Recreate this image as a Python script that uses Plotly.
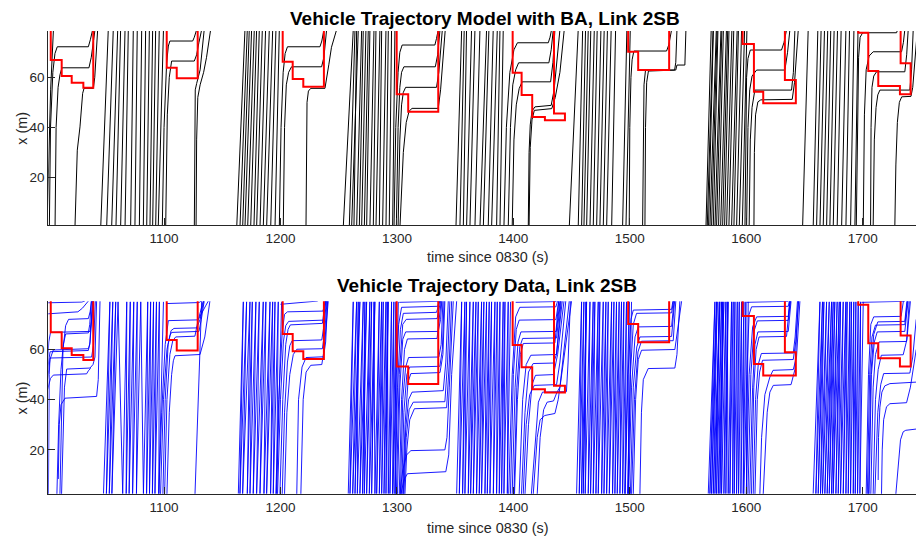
import plotly.graph_objects as go

# ---------------- axis ranges ----------------
T_RANGE = [1000.6, 1745.8]
MODEL_X_RANGE = [0.9, 78.5]
DATA_X_RANGE = [2.3, 79.2]
T_TICKS = [1100, 1200, 1300, 1400, 1500, 1600, 1700]
X_TICKS = [20, 40, 60]

# ---------------- queue boundaries (red), same in both panels: (time, position) ----------------
queue_A = [(1002.7, 80), (1002.7, 66.9), (1012.1, 66.9), (1012.1, 60.5), (1020.7, 60.5), (1020.7, 57.8),
           (1030.7, 57.8), (1030.7, 55.8), (1039.2, 55.8), (1039.2, 80)]
queue_B = [(1102.3, 80), (1102.3, 63.8), (1110.9, 63.8), (1110.9, 59.6), (1128.9, 59.6), (1128.9, 80)]
queue_C = [(1201.9, 80), (1201.9, 66.2), (1210.5, 66.2), (1210.5, 59.3), (1219.6, 59.3), (1219.6, 56.2),
           (1237.3, 56.2), (1237.3, 80)]
queue_D = [(1299.8, 80), (1299.8, 53.2), (1309.7, 53.2), (1309.7, 46.2), (1335.5, 46.2), (1335.5, 80)]
queue_E = [(1399.4, 80), (1399.4, 61.8), (1407.1, 61.8), (1407.1, 52.9), (1416.2, 52.9), (1416.2, 44.2),
           (1427.1, 44.2), (1427.1, 42.9), (1444.3, 42.9), (1444.3, 45.6), (1434.9, 45.6), (1434.9, 80)]
queue_F = [(1498.6, 80), (1498.6, 70.2), (1507.2, 70.2), (1507.2, 62.9), (1533.8, 62.9), (1533.8, 80)]
queue_G = [(1596.9, 80), (1596.9, 73.3), (1606.6, 73.3), (1606.6, 54.2), (1614.6, 54.2), (1614.6, 49.6),
           (1642.6, 49.6), (1642.6, 58.9), (1633.2, 58.9), (1633.2, 80)]
queue_H = [(1696.2, 80), (1696.2, 77.8), (1704.8, 77.8), (1704.8, 62.5), (1713.4, 62.5), (1713.4, 56.5),
           (1732.0, 56.5), (1732.0, 53.2), (1741.2, 53.2), (1741.2, 65.6), (1732.6, 65.6), (1732.6, 80)]

# ---------------- model (top): free-flow vehicles, time at link entry / exit ----------------
model_in_1 = [1045.6, 1050.7, 1055.0, 1058.7, 1062.7, 1066.5, 1071.3, 1075.0, 1078.8, 1082.2, 1085.1, 1087.9, 1090.2, 1092.8, 1095.0]
model_out_1 = [1052.1, 1056.4, 1060.2, 1062.7, 1066.5, 1069.3, 1073.6, 1077.0, 1080.8, 1084.2, 1087.4, 1090.2, 1092.8, 1095.9, 1099.5]
model_in_2 = [1162.4, 1165.2, 1167.5, 1169.5, 1171.8, 1174.4, 1177.2, 1179.5, 1182.4, 1185.2, 1188.1, 1191.6, 1195.3]
model_out_2 = [1169.5, 1171.5, 1173.2, 1175.2, 1177.5, 1179.5, 1181.8, 1184.4, 1187.2, 1190.4, 1193.3, 1196.1, 1199.0]
model_in_3 = [1253.9, 1259.1, 1261.1, 1263.1, 1265.4, 1267.7, 1269.7, 1272.0, 1274.0, 1276.8, 1279.7, 1282.0, 1284.9, 1287.7, 1290.6, 1293.4, 1296.3]
model_out_3 = [1262.5, 1264.0, 1266.8, 1265.4, 1269.7, 1271.1, 1273.4, 1275.4, 1276.8, 1280.3, 1282.0, 1285.4, 1286.9, 1290.6, 1292.6, 1295.4, 1298.3]
model_in_4 = [1350.7, 1354.1, 1357.0, 1359.8, 1362.7, 1367.0, 1371.3, 1374.2, 1378.4, 1381.3, 1385.6, 1388.5]
model_out_4 = [1355.6, 1357.8, 1359.8, 1364.1, 1367.0, 1371.3, 1377.0, 1379.0, 1382.7, 1386.2, 1388.5, 1391.3]
model_in_5 = [1448.0, 1455.7, 1458.6, 1460.6, 1462.9, 1465.8, 1468.6, 1471.5, 1474.3, 1477.2, 1480.1, 1484.4, 1493.8, 1496.7]
model_out_5 = [1455.7, 1459.5, 1462.0, 1464.3, 1466.5, 1469.5, 1472.0, 1475.2, 1478.0, 1480.8, 1484.0, 1487.8, 1497.5, 1500.4]
model_in_6 = [1565.4, 1566.5, 1567.6, 1568.8, 1570.2, 1571.7, 1573.1, 1574.5, 1576.2, 1578.0, 1579.7, 1581.4, 1583.1, 1585.1, 1587.4, 1589.4, 1591.7, 1594.0, 1596.6]
model_out_6 = [1569.9, 1571.5, 1571.8, 1574.3, 1575.0, 1575.7, 1578.3, 1579.1, 1580.4, 1583.0, 1584.1, 1585.2, 1587.7, 1589.3, 1592.2, 1593.3, 1596.0, 1598.6, 1600.6]
model_in_7 = [1648.4, 1657.5, 1660.4, 1663.3, 1666.1, 1669.0, 1671.8, 1674.7, 1678.1, 1681.9, 1685.6, 1689.6, 1693.3]
model_out_7 = [1653.2, 1661.5, 1664.3, 1667.2, 1670.0, 1672.6, 1675.5, 1678.4, 1681.5, 1685.6, 1688.7, 1692.5, 1696.0]
MODEL_X_ENTRY, MODEL_X_EXIT = 0.0, 79.0

# ---------------- model (top): queued vehicles, (time, position) ----------------
model_queue_A = [
    [(999.5, 0), (1000.6, 22), (1002.6, 55), (1005.0, 79)],
    [(1001.5, 0), (1002.5, 40), (1004.5, 62), (1006.3, 69.5), (1008.3, 72.2), (1035.0, 72.2), (1036.7, 75), (1038.7, 79)],
    [(1006.4, 0), (1007.3, 40), (1009.0, 56), (1010.6, 61), (1012.3, 63.8), (1035.5, 63.8), (1037.5, 68), (1040.7, 79)],
    [(1023.5, 0), (1025.5, 30.9), (1027.8, 40.2), (1030.1, 53.6), (1031.3, 55.6), (1039.3, 55.6), (1040.5, 60), (1041.5, 66), (1043.0, 79)],
]
model_queue_B = [
    [(1098.5, 0), (1100.0, 40), (1102.2, 65.6), (1103.7, 72.5), (1105.0, 74.5), (1124.6, 74.5), (1126.0, 76), (1128.0, 79)],
    [(1101.4, 0), (1102.8, 45), (1104.5, 60), (1106.5, 66.5), (1126.0, 66.5), (1128.0, 69), (1130.0, 74), (1132.3, 79)],
    [(1126.0, 0), (1126.3, 40), (1126.8, 55), (1128.0, 57.5), (1129.4, 59.6), (1131.0, 63), (1134.5, 79)],
    [(1127.5, 0), (1128.0, 35), (1129.0, 52), (1131.0, 57), (1134.0, 62), (1136.5, 68), (1140.0, 79)],
]
model_queue_C = [
    [(1199.0, 0), (1200.5, 40), (1202.3, 62), (1204.0, 69.5), (1206.0, 72.2), (1233.9, 72.2), (1235.5, 74.5), (1237.3, 79)],
    [(1202.4, 0), (1203.5, 40), (1205.0, 57), (1207.0, 62), (1209.5, 64.2), (1235.3, 64.2), (1237.3, 68), (1239.6, 79)],
    [(1221.9, 0), (1222.3, 35), (1222.8, 50), (1224.0, 54.5), (1226.0, 55.6), (1238.2, 55.6), (1240.0, 60), (1241.5, 65), (1243.8, 72), (1248.2, 79)],
]
model_queue_D = [
    [(1297.5, 0), (1299.0, 40), (1301.0, 62), (1302.5, 70), (1304.5, 72.9), (1332.6, 72.9), (1334.0, 75.5), (1335.5, 79)],
    [(1299.5, 0), (1301.0, 40), (1302.5, 56), (1304.0, 62), (1306.0, 64.2), (1333.0, 64.2), (1335.0, 69), (1337.0, 79)],
    [(1301.0, 0), (1302.5, 35), (1304.0, 49), (1305.5, 54), (1307.5, 56.0), (1334.0, 56.0), (1336.0, 62), (1339.0, 79)],
    [(1302.6, 0), (1305.5, 30), (1308.0, 42), (1310.5, 46.5), (1313.0, 47.6), (1335.5, 47.6), (1337.5, 55), (1339.5, 66), (1341.5, 79)],
]
model_queue_E = [
    [(1391.9, 0), (1394.0, 40), (1397.0, 62), (1400.5, 71), (1403.5, 73.8), (1430.0, 73.8), (1431.5, 76), (1432.8, 79)],
    [(1395.6, 0), (1397.5, 40), (1399.5, 57), (1402.0, 63), (1404.5, 65.8), (1430.5, 65.8), (1432.5, 71), (1434.3, 79)],
    [(1399.0, 0), (1400.5, 35), (1402.5, 49), (1405.0, 55.5), (1407.5, 58.2), (1432.0, 58.2), (1434.0, 66), (1435.7, 79)],
    [(1412.8, 0), (1413.5, 30), (1414.5, 41), (1416.0, 46.5), (1418.5, 48.2), (1432.5, 48.8), (1435.0, 55), (1437.5, 66), (1440.0, 79)],
    [(1413.5, 0), (1414.5, 32), (1416.0, 43), (1418.0, 46.8), (1433.0, 47.5), (1436.0, 52), (1440.0, 62), (1443.7, 79)],
]
model_queue_F = [
    [(1499.5, 0), (1500.0, 40), (1501.0, 60), (1502.0, 67), (1503.5, 70.5), (1531.6, 70.5), (1533.5, 73), (1535.9, 79)],
    [(1511.0, 0), (1511.5, 40), (1512.2, 57), (1513.5, 62.9), (1538.5, 62.9), (1539.5, 66), (1540.5, 79)],
    [(1513.0, 0), (1513.5, 40), (1514.5, 58), (1516.0, 62.5), (1539.5, 62.9), (1540.5, 64.9), (1547.3, 64.9), (1548.2, 79)],
]
model_queue_G = [
    [(1598.9, 0), (1599.5, 40), (1600.3, 60), (1601.5, 67.5), (1603.5, 70.9), (1630.3, 70.9), (1632.5, 74), (1634.6, 79)],
    [(1600.3, 0), (1601.5, 40), (1603.0, 55), (1605.0, 60.5), (1608.9, 62.9), (1633.2, 62.9), (1635.5, 70), (1637.5, 79)],
    [(1602.5, 0), (1603.5, 35), (1605.0, 48), (1607.4, 54.9), (1638.9, 54.9), (1640.5, 62), (1641.8, 79)],
    [(1606.6, 0), (1607.0, 30), (1608.0, 45), (1610.0, 50.2), (1612.5, 51.0), (1639.5, 51.2), (1641.5, 58), (1643.0, 68), (1644.7, 79)],
]
model_queue_H = [
    [(1694.5, 0), (1695.5, 45), (1696.5, 68), (1697.8, 76), (1700.0, 77.8), (1729.1, 77.8), (1730.0, 79)],
    [(1700.5, 0), (1701.5, 45), (1703.0, 63), (1705.5, 68.5), (1709.0, 70.2), (1733.4, 70.2), (1735.0, 74), (1736.2, 79)],
    [(1706.8, 0), (1707.2, 40), (1708.0, 56), (1709.5, 60.5), (1711.9, 62.2), (1736.2, 62.2), (1737.8, 69), (1739.1, 79)],
    [(1709.0, 0), (1710.0, 35), (1711.5, 48), (1713.0, 53), (1714.8, 54.9), (1740.5, 54.9), (1742.0, 63), (1743.4, 79)],
    [(1727.6, 0), (1728.5, 25), (1729.8, 42), (1731.5, 50), (1733.5, 52.2), (1741.5, 52.4), (1743.0, 56), (1745.0, 66), (1747.0, 79)],
]

# ---------------- data (bottom): recorded free-flow traces, alternating low/high turning times ----------------
data_zigzag_1 = [1048.0, 1053.5, 1050.5, 1056.0, 1053.0, 1058.5, 1055.2, 1060.5, 1064.5, 1068.0, 1067.5, 1071.0, 1070.0,
                 1074.0, 1073.0, 1077.0, 1076.3, 1080.0, 1082.3, 1086.0, 1085.0, 1088.5, 1087.5, 1091.0, 1090.0, 1093.5,
                 1092.2, 1096.0, 1095.5, 1099.5]
data_zigzag_2 = [1163.8, 1168.1, 1165.2, 1170.9, 1167.5, 1173.8, 1171.5, 1175.8, 1173.8, 1178.9, 1176.6, 1181.8, 1179.5,
                 1185.2, 1182.4, 1187.5, 1185.8, 1191.0, 1188.1, 1193.3, 1191.5, 1195.3, 1193.8, 1198.1, 1196.7, 1201.0]
data_zigzag_3 = [1258.2, 1262.5, 1259.7, 1265.4, 1262.0, 1268.2, 1264.0, 1266.8, 1266.0, 1271.1, 1268.2, 1274.0, 1270.5,
                 1272.5, 1272.0, 1276.8, 1274.0, 1278.3, 1276.3, 1281.1, 1278.3, 1280.3, 1281.1, 1284.9, 1282.6, 1286.9,
                 1284.9, 1288.3, 1286.9, 1290.6, 1288.9, 1292.6, 1290.6, 1291.7, 1292.6, 1295.4, 1294.0, 1297.4, 1296.3,
                 1299.2, 1298.3, 1301.2]
data_zigzag_4 = [1351.3, 1355.6, 1353.6, 1358.4, 1356.4, 1359.8, 1358.4, 1362.7, 1361.3, 1365.6, 1363.3, 1367.9, 1365.6,
                 1369.9, 1368.4, 1372.7, 1370.7, 1374.7, 1372.7, 1377.0, 1375.6, 1379.3, 1377.6, 1381.3, 1379.9, 1384.2,
                 1382.8, 1386.2, 1385.6, 1388.5, 1387.9, 1391.3, 1389.9, 1392.8, 1391.9, 1395.6, 1394.8, 1397.6]
data_zigzag_5 = [1454.3, 1458.6, 1456.6, 1460.6, 1458.6, 1462.9, 1460.0, 1462.3, 1461.7, 1465.8, 1464.3, 1468.6, 1466.3,
                 1470.0, 1468.6, 1472.9, 1470.9, 1474.3, 1472.9, 1477.2, 1475.8, 1479.5, 1477.8, 1481.5, 1480.1, 1484.4,
                 1482.4, 1486.4, 1485.2, 1488.6, 1487.2, 1490.9, 1489.2, 1492.9, 1491.5, 1494.9, 1493.8, 1497.2, 1495.8,
                 1499.5, 1498.7, 1501.5]
data_zigzag_6 = [1567.4, 1573.1, 1568.8, 1574.5, 1570.2, 1575.1, 1571.7, 1577.4, 1573.1, 1576.8, 1574.5, 1578.8, 1576.0,
                 1580.8, 1577.4, 1579.7, 1578.8, 1582.5, 1580.8, 1584.5, 1582.5, 1583.7, 1584.5, 1587.4, 1586.0, 1588.8,
                 1588.3, 1590.3, 1589.7, 1592.3, 1591.7, 1594.0, 1593.4, 1596.0, 1595.4, 1598.0, 1597.4, 1599.7, 1600.3,
                 1601.7]
data_zigzag_7 = [1657.5, 1663.3, 1659.8, 1665.5, 1661.8, 1666.7, 1663.8, 1669.0, 1665.5, 1671.3, 1667.5, 1673.3, 1669.5,
                 1674.7, 1671.3, 1676.1, 1673.3, 1678.1, 1674.7, 1679.9, 1677.0, 1681.0, 1679.0, 1683.3, 1681.0, 1685.6,
                 1683.3, 1686.7, 1685.6, 1689.0, 1687.6, 1690.4, 1689.6, 1692.4, 1691.9, 1694.2, 1693.6, 1696.2, 1695.6,
                 1698.2, 1697.6, 1700.5]
DATA_X_LOW, DATA_X_HIGH = 2.6, 79.0

# ---------------- data (bottom): queued vehicle traces, (time, position) ----------------
data_queue_A = [
    [(1000.0, 78.6), (1029.3, 78.9), (1032.0, 79.3)],
    [(1000.0, 74.2), (1026.0, 75.0), (1030.0, 76.5), (1035.0, 79.3)],
    [(1010.6, 2.5), (1011.8, 35), (1013.2, 60), (1015.5, 69.5), (1018.0, 72.0), (1035.0, 72.3), (1036.5, 75), (1037.8, 79.3)],
    [(1000.0, 55), (1001.0, 63), (1002.5, 66.8), (1036.4, 67.2), (1038.0, 72), (1039.3, 79.3)],
    [(1008.0, 2.5), (1009.5, 30), (1011.5, 52), (1013.5, 62), (1015.5, 66.2), (1035.0, 66.6), (1036.2, 70), (1037.5, 79.3)],
    [(1000.0, 48), (1002.0, 56), (1004.9, 59.8), (1035.0, 60.3), (1036.2, 62), (1038.5, 79.3)],
    [(1000.0, 52), (1002.1, 59.1), (1035.0, 59.6), (1036.5, 63), (1038.8, 79.3)],
    [(1000.7, 2.5), (1001.0, 30), (1001.4, 50), (1002.1, 56.6), (1037.8, 57.0), (1039.5, 62), (1041.0, 79.3)],
    [(1012.0, 2.5), (1013.0, 25), (1014.5, 45), (1016.4, 52.2), (1036.4, 52.6), (1039.0, 54), (1040.7, 57), (1042.1, 79.3)],
    [(1000.0, 44), (1002.5, 48.5), (1004.9, 49.8), (1033.5, 50.3), (1035.0, 51.5), (1037.0, 52.5)],
    [(1009.2, 8.4), (1010.0, 30), (1011.5, 38), (1015.0, 40.6), (1042.1, 41.3), (1043.5, 48), (1045.0, 79.3)],
]
data_queue_B = [
    [(1102.2, 78.3), (1130.0, 78.7), (1132.0, 79.3)],
    [(1095.5, 2.5), (1098.0, 35), (1101.0, 62), (1103.7, 71.5), (1129.4, 71.8), (1131.5, 75), (1133.7, 79.3)],
    [(1099.0, 2.5), (1101.0, 40), (1103.5, 62), (1106.0, 67.5), (1108.5, 68.4), (1128.0, 68.6), (1131.0, 72), (1134.0, 79.3)],
    [(1097.0, 2.5), (1099.5, 40), (1102.5, 60), (1105.0, 65.5), (1106.5, 66.8), (1130.0, 67.2), (1132.0, 72), (1134.5, 79.3)],
    [(1100.5, 2.5), (1102.5, 40), (1105.0, 58), (1107.5, 63.5), (1110.0, 65.0), (1126.5, 65.3), (1129.4, 72), (1138.0, 79.3)],
    [(1102.5, 2.5), (1104.5, 35), (1106.5, 50), (1108.0, 55.5), (1109.4, 57.5), (1130.9, 58.0), (1135.0, 65), (1137.0, 71), (1139.4, 79.3)],
    [(1126.6, 2.5), (1132.3, 79.3)],
]
data_queue_C = [
    [(1200.0, 78.0), (1215.0, 78.6), (1232.0, 79.3)],
    [(1196.0, 2.5), (1198.5, 40), (1201.5, 67), (1203.5, 74.0), (1206.0, 75.0), (1236.5, 75.3), (1238.5, 79.3)],
    [(1197.5, 2.5), (1200.0, 40), (1202.5, 63), (1204.5, 69.5), (1207.0, 71.2), (1237.0, 71.7), (1239.0, 79.3)],
    [(1199.5, 2.5), (1202.0, 40), (1204.5, 62), (1206.5, 68), (1208.5, 69.8), (1236.0, 70.4), (1238.5, 79.3)],
    [(1201.5, 2.5), (1203.5, 35), (1206.0, 55), (1208.0, 61.5), (1210.0, 63.5), (1235.5, 63.8), (1237.5, 70), (1239.5, 79.3)],
    [(1203.5, 2.5), (1205.5, 35), (1208.0, 50), (1211.0, 58), (1214.0, 60.1), (1236.0, 60.3), (1238.0, 67), (1240.0, 79.3)],
    [(1214.0, 2.5), (1215.5, 40), (1218.5, 53), (1222.0, 56.8), (1237.0, 57.1), (1238.8, 63), (1240.5, 79.3)],
    [(1217.5, 2.5), (1219.5, 40), (1222.0, 51), (1226.0, 53.7), (1235.5, 54.0), (1237.5, 60), (1241.0, 79.3)],
]
data_queue_D = [
    [(1302.0, 78.8), (1336.5, 79.2)],
    [(1296.5, 2.5), (1299.0, 45), (1301.5, 70), (1304.0, 76.8), (1335.0, 77.2), (1336.5, 79.3)],
    [(1298.5, 2.5), (1300.5, 45), (1303.0, 68), (1305.5, 74.4), (1334.0, 74.8), (1336.9, 79.3)],
    [(1299.5, 2.5), (1302.0, 50), (1305.0, 70), (1308.0, 72.0), (1334.5, 72.3), (1337.5, 79.3)],
    [(1300.5, 2.5), (1302.5, 45), (1305.0, 64), (1307.5, 67.0), (1335.5, 67.2), (1337.5, 72), (1338.5, 79.3)],
    [(1302.0, 2.5), (1304.0, 40), (1306.5, 60), (1309.0, 64.2), (1334.5, 64.4), (1338.0, 79.3)],
    [(1303.0, 2.5), (1305.0, 40), (1307.5, 53), (1310.0, 56.8), (1336.0, 57.0), (1338.0, 62), (1339.5, 79.3)],
    [(1304.0, 2.5), (1306.0, 35), (1308.5, 50), (1311.0, 53.0), (1336.9, 53.3), (1339.0, 60), (1340.5, 79.3)],
    [(1305.0, 2.5), (1307.0, 30), (1309.5, 47), (1312.0, 50.4), (1337.0, 50.8), (1339.5, 58), (1341.2, 79.3)],
    [(1305.5, 2.5), (1307.5, 28), (1310.0, 40), (1313.0, 43.0), (1339.8, 43.6), (1342.0, 55), (1344.1, 79.3)],
    [(1306.0, 2.5), (1308.0, 25), (1310.5, 36), (1314.0, 39.0), (1341.2, 39.2), (1343.5, 55), (1345.5, 79.3)],
    [(1306.9, 2.5), (1308.5, 20), (1311.0, 32), (1315.0, 36.4), (1342.7, 36.8), (1345.0, 55), (1347.0, 79.3)],
    [(1302.6, 2.5), (1305.0, 12), (1308.3, 18), (1312.0, 19.7), (1341.2, 20.0), (1343.0, 25), (1345.0, 45), (1348.4, 79.3)],
    [(1303.5, 2.5), (1306.0, 8), (1309.0, 10.5), (1342.0, 11.3), (1344.5, 18), (1347.0, 50), (1351.3, 79.3)],
]
data_queue_E = [
    [(1402.0, 78.8), (1437.0, 79.1)],
    [(1396.0, 2.5), (1399.0, 50), (1402.0, 73), (1405.5, 76.8), (1436.5, 77.0), (1438.0, 79.3)],
    [(1397.5, 2.5), (1400.0, 50), (1402.5, 68), (1405.0, 71.7), (1436.5, 71.9), (1439.0, 79.3)],
    [(1399.0, 2.5), (1401.5, 45), (1404.0, 63), (1406.5, 67.0), (1436.9, 67.2), (1440.0, 79.3)],
    [(1400.5, 2.5), (1403.0, 45), (1405.5, 61), (1408.0, 64.4), (1437.1, 64.6), (1440.5, 79.3)],
    [(1401.0, 2.5), (1403.5, 40), (1406.0, 58), (1408.5, 62.4), (1435.7, 62.6), (1439.0, 79.3)],
    [(1405.0, 2.5), (1408.0, 40), (1411.0, 54), (1415.0, 57.7), (1437.1, 58.0), (1441.0, 79.3)],
    [(1407.0, 2.5), (1410.0, 35), (1413.0, 51), (1417.0, 54.4), (1434.5, 54.6), (1437.0, 58), (1442.0, 79.3)],
    [(1410.0, 2.5), (1413.0, 30), (1416.0, 46), (1419.0, 49.7), (1434.5, 50.0), (1438.0, 58), (1443.5, 79.3)],
    [(1408.5, 2.5), (1411.0, 30), (1414.0, 42), (1418.0, 45.7), (1437.1, 46.0), (1440.0, 55), (1445.0, 79.3)],
    [(1415.5, 2.5), (1419.0, 25), (1421.5, 39), (1425.0, 43.0), (1445.6, 43.2), (1447.0, 55), (1449.0, 79.3)],
    [(1417.1, 2.5), (1420.5, 25), (1423.0, 32), (1427.0, 33.7), (1435.7, 34.5), (1438.5, 40), (1443.0, 55), (1450.0, 79.3)],
    [(1420.5, 2.5), (1423.0, 25), (1426.0, 36), (1429.0, 39.0), (1434.5, 39.5), (1437.5, 43), (1440.0, 45), (1448.0, 79.3)],
]
data_queue_F = [
    [(1496.0, 2.5), (1498.5, 50), (1501.0, 72), (1503.0, 75.7), (1535.9, 76.0), (1537.0, 79.3)],
    [(1498.0, 2.5), (1500.5, 50), (1503.0, 70), (1505.8, 74.4), (1535.9, 74.6), (1537.5, 79.3)],
    [(1499.0, 2.5), (1501.5, 45), (1504.5, 65), (1507.3, 69.0), (1535.9, 69.2), (1538.0, 79.3)],
    [(1500.5, 2.5), (1503.0, 45), (1506.0, 61), (1508.7, 65.0), (1535.9, 65.2), (1538.5, 79.3)],
    [(1501.5, 2.5), (1504.0, 40), (1507.0, 59), (1510.0, 63.3), (1537.3, 63.5), (1539.5, 79.3)],
    [(1503.0, 2.5), (1505.0, 40), (1507.3, 56), (1510.1, 59.7), (1538.7, 60.0), (1540.5, 66), (1544.5, 79.3)],
    [(1508.7, 2.5), (1510.0, 35), (1511.6, 48), (1515.8, 52.4), (1538.7, 52.6), (1540.5, 58), (1543.0, 79.3)],
]
data_queue_G = [
    [(1600.3, 78.8), (1636.1, 79.2)],
    [(1598.0, 2.5), (1600.5, 50), (1602.5, 74), (1604.6, 77.0), (1636.1, 77.2), (1637.0, 79.3)],
    [(1600.0, 2.5), (1602.5, 50), (1605.5, 69), (1608.9, 73.0), (1636.1, 73.2), (1637.5, 79.3)],
    [(1601.5, 2.5), (1604.0, 50), (1606.5, 67), (1609.5, 71.4), (1636.1, 71.6), (1638.0, 79.3)],
    [(1603.0, 2.5), (1605.5, 45), (1607.5, 62), (1610.0, 67.0), (1636.1, 67.2), (1638.5, 79.3)],
    [(1604.5, 2.5), (1606.5, 45), (1608.5, 60), (1611.0, 65.0), (1634.6, 65.2), (1637.5, 79.3)],
    [(1606.0, 2.5), (1608.0, 40), (1610.3, 54), (1613.0, 58.4), (1640.4, 58.6), (1642.0, 65), (1644.0, 79.3)],
    [(1607.5, 2.5), (1609.5, 40), (1611.5, 51), (1614.0, 55.7), (1640.4, 56.0), (1642.5, 63), (1645.0, 79.3)],
    [(1611.7, 2.5), (1613.2, 25), (1616.0, 42), (1620.3, 49), (1623.0, 51.7), (1640.4, 52.0), (1643.2, 57), (1646.1, 79.3)],
    [(1614.6, 2.5), (1616.5, 20), (1618.0, 35), (1620.3, 43), (1623.2, 45.7), (1638.5, 46.0), (1641.8, 52), (1644.7, 79.3)],
]
data_queue_H = [
    [(1699.0, 78.8), (1736.2, 79.2)],
    [(1703.0, 2.5), (1705.0, 50), (1707.0, 70), (1709.5, 73.0), (1733.0, 73.2), (1735.0, 79.3)],
    [(1705.0, 2.5), (1707.0, 50), (1709.5, 66), (1713.0, 71.0), (1736.2, 71.2), (1738.0, 79.3)],
    [(1704.0, 2.5), (1706.0, 50), (1708.0, 65), (1711.0, 69.7), (1736.2, 69.9), (1738.5, 79.3)],
    [(1705.5, 2.5), (1707.5, 50), (1710.0, 63), (1712.5, 67.0), (1736.2, 67.2), (1739.0, 79.3)],
    [(1707.0, 2.5), (1709.0, 45), (1711.0, 58), (1714.0, 63.0), (1737.7, 63.2), (1740.0, 79.3)],
    [(1709.0, 2.5), (1711.0, 40), (1713.3, 52), (1716.0, 57.7), (1734.8, 57.9), (1738.0, 64), (1741.0, 79.3)],
    [(1710.5, 2.5), (1713.0, 35), (1715.5, 46), (1718.0, 50.4), (1740.5, 50.6), (1743.0, 57), (1746.0, 72)],
    [(1713.3, 8.0), (1713.6, 25), (1714.8, 37), (1716.5, 43), (1719.0, 45.5), (1723.4, 46.4), (1746.0, 47)],
    [(1716.2, 2.5), (1716.8, 20), (1718.0, 32), (1720.5, 37.2), (1723.4, 38.4), (1737.7, 38.8), (1741.0, 45), (1746.0, 60)],
    [(1728.5, 2.5), (1731.0, 15), (1732.5, 24), (1734.8, 27.2), (1737.0, 27.8), (1746.0, 28.3)],
]

# ---------------- build ----------------
FONT = "Liberation Sans, Arial, Helvetica, sans-serif"
AX_COLOR = "#262626"


def paths_to_xy(paths):
    xs, ys = [], []
    for p in paths:
        for t, x in p:
            xs.append(t)
            ys.append(x)
        xs.append(None)
        ys.append(None)
    return xs, ys


def line_trace(paths, color, width, xa, ya):
    xs, ys = paths_to_xy(paths)
    return go.Scatter(x=xs, y=ys, mode="lines", line=dict(color=color, width=width),
                      hoverinfo="skip", showlegend=False, xaxis=xa, yaxis=ya)


model_free = []
for tin, tout in zip(model_in_1 + model_in_2 + model_in_3 + model_in_4 + model_in_5 + model_in_6 + model_in_7,
                     model_out_1 + model_out_2 + model_out_3 + model_out_4 + model_out_5 + model_out_6 + model_out_7):
    model_free.append([(tin, MODEL_X_ENTRY), (tout, MODEL_X_EXIT)])
model_queued = (model_queue_A + model_queue_B + model_queue_C + model_queue_D + model_queue_E +
                model_queue_F + model_queue_G + model_queue_H)

data_free = []
for zz in [data_zigzag_1, data_zigzag_2, data_zigzag_3, data_zigzag_4, data_zigzag_5, data_zigzag_6, data_zigzag_7]:
    data_free.append([(t, DATA_X_LOW if i % 2 == 0 else DATA_X_HIGH) for i, t in enumerate(zz)])
data_queued = (data_queue_A + data_queue_B + data_queue_C + data_queue_D + data_queue_E +
               data_queue_F + data_queue_G + data_queue_H)

queues = [queue_A, queue_B, queue_C, queue_D, queue_E, queue_F, queue_G, queue_H]

fig = go.Figure()
fig.add_trace(line_trace(model_free + model_queued, "#000000", 1.0, "x", "y"))
fig.add_trace(line_trace(queues, "#ff0000", 2.0, "x", "y"))
fig.add_trace(line_trace(data_free + data_queued, "#0000ff", 0.9, "x2", "y2"))
fig.add_trace(line_trace(queues, "#ff0000", 2.0, "x2", "y2"))

W, H = 916, 538
XDOM = [48.3 / W, 1.0]
axis_common = dict(showline=True, linecolor=AX_COLOR, linewidth=1, ticks="inside", ticklen=7,
                   tickcolor=AX_COLOR, tickwidth=1, showgrid=False, zeroline=False, mirror=False,
                   tickfont=dict(family=FONT, size=13.5, color=AX_COLOR))

fig.update_layout(
    width=W, height=H, margin=dict(l=0, r=0, t=0, b=0),
    paper_bgcolor="white", plot_bgcolor="white", showlegend=False,
    xaxis=dict(domain=XDOM, range=T_RANGE, tickvals=T_TICKS, anchor="y", **axis_common),
    yaxis=dict(domain=[1 - 225.3 / H, 1 - 31 / H], range=MODEL_X_RANGE, tickvals=X_TICKS, anchor="x", **axis_common),
    xaxis2=dict(domain=XDOM, range=T_RANGE, tickvals=T_TICKS, anchor="y2", **axis_common),
    yaxis2=dict(domain=[1 - 494.3 / H, 1 - 301.3 / H], range=DATA_X_RANGE, tickvals=X_TICKS, anchor="x2", **axis_common),
)

ann = []
ann.append(dict(text="Vehicle Trajectory Model with BA, Link 2SB", x=484.7 / W, y=1 - 18 / H,
                font=dict(family=FONT, size=19, color="#000000", weight="bold")))
ann.append(dict(text="Vehicle Trajectory Data, Link 2SB", x=487 / W, y=1 - 285 / H,
                font=dict(family=FONT, size=19, color="#000000", weight="bold")))
for yy in [257, 528]:
    ann.append(dict(text="time since 0830 (s)", x=487.5 / W, y=1 - yy / H,
                    font=dict(family=FONT, size=14.4, color=AX_COLOR)))
for yy in [128, 397.7]:
    ann.append(dict(text="x (m)", x=21.7 / W, y=1 - yy / H, textangle=-90,
                    font=dict(family=FONT, size=14.4, color=AX_COLOR)))
for a in ann:
    a.update(xref="paper", yref="paper", xanchor="center", yanchor="middle", showarrow=False)
fig.update_layout(annotations=ann)

fig.write_html("out.html", config={"displayModeBar": False, "staticPlot": True},
               post_script="document.body.style.margin='0';document.body.style.overflow='hidden';")
